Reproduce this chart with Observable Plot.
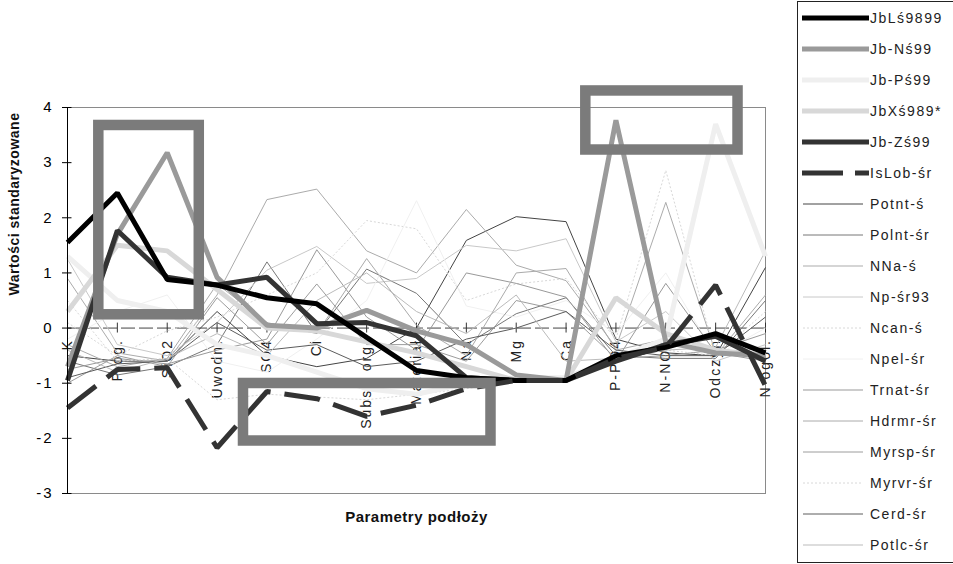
<!DOCTYPE html>
<html><head><meta charset="utf-8">
<script src="https://cdn.jsdelivr.net/npm/d3@7"></script>
<script src="https://cdn.jsdelivr.net/npm/@observablehq/plot@0.6"></script>
<style>
body{margin:0;background:#fff;font-family:"Liberation Sans",Arial,sans-serif;}
#wrap{position:relative;width:953px;height:564px;overflow:hidden;background:#fff;}
#chart{position:absolute;left:0;top:0;}
#legend{position:absolute;left:797px;top:1px;width:170px;height:562px;border:1px solid #222;box-sizing:border-box;background:#fff;}
</style></head><body>
<div id="wrap"><div id="chart"></div><div id="legend"></div></div>
<script>
// ---- categories / ticks ----
const categories = ["K","P og.","SiO2","Uwodn.","SO4","Cl","Subst. org.","Materiał","Na","Mg","Ca","P-PO4","N-NO3","Odczyn","N ogól."];
const yTicks = [-3,-2,-1,0,1,2,3,4];
const yTitle = "Wartości standaryzowane";
const xTitle = "Parametry podłoży";

// ---- series values (one per category) ----
const sJbLs9899  = [1.55, 2.45, 0.88, 0.78, 0.55, 0.44, -0.17, -0.77, -0.9, -0.95, -0.95, -0.5, -0.35, -0.1, -0.45];
const sJbNs99    = [-0.7, 1.7, 3.18, 0.92, 0.05, 0.0, 0.32, -0.05, -0.3, -0.85, -0.95, 3.77, -0.25, -0.45, -0.5];
const sJbPs99    = [1.3, 0.5, 0.3, -0.3, -0.5, -0.8, -1.1, -1.2, -1.0, -0.9, -0.9, -0.55, -0.2, 3.7, 1.3];
const sJbXs989   = [0.3, 1.5, 1.4, 0.7, 0.0, -0.05, -0.25, -0.45, -0.7, -0.95, -0.95, 0.55, -0.1, -0.4, -0.5];
const sJbZs99    = [-0.95, 1.77, 0.92, 0.78, 0.92, 0.08, 0.1, -0.14, -0.9, -0.95, -0.95, -0.6, -0.3, -0.15, -0.6];
const sIsLob     = [-1.45, -0.75, -0.72, -2.17, -1.15, -1.28, -1.6, -1.4, -1.1, -0.95, -0.95, -0.55, -0.35, 0.78, -1.05];
const sPotnt     = [-0.5, -0.6, -0.6, 0.3, -0.5, -0.7, -0.55, 0.0, 1.59, 2.02, 1.93, -0.2, -0.45, -0.5, 1.1];
const sPolnt     = [-0.6, -0.85, -0.7, -0.3, 1.2, -0.1, 1.07, 0.63, -0.3, 0.26, 0.55, -0.5, -0.55, -0.55, 0.5];
const sNNa       = [0.9, -0.45, -0.6, 0.6, 2.33, 2.52, 1.4, 1.0, 2.15, 1.14, 0.86, -0.35, 2.28, -0.45, -0.5];
const sNp93      = [1.25, -0.3, -0.5, 0.1, 1.05, 1.48, 0.81, 0.9, 1.5, 1.4, 1.62, -0.25, 0.3, -0.6, -0.3];
const sNcan      = [0.1, -0.5, -0.05, 0.2, 0.6, 1.0, 1.95, 1.8, 0.5, 0.8, 0.9, -0.2, 2.86, -0.5, 0.3];
const sNpel      = [-0.2, 0.3, 0.6, -0.6, -0.8, -0.2, 0.5, 2.31, 0.4, 0.2, 0.5, -0.1, 1.0, -0.5, 0.0];
const sTrnat     = [-0.75, -0.55, -0.65, -0.4, -0.2, 1.42, 0.2, -0.4, 1.0, 0.81, 0.56, -0.6, 0.81, -0.45, -0.6];
const sHdrmr     = [-0.3, -0.7, -0.55, 0.8, 0.1, -0.1, 1.26, 0.05, -0.5, 1.0, 1.08, -0.4, -0.2, -0.5, 0.6];
const sMyrsp     = [-1.0, -0.5, -0.7, 0.55, -0.3, 0.8, -0.3, -0.3, -0.6, 0.5, 0.3, -0.55, -0.5, -0.4, -0.1];
const sMyrvr     = [0.5, -0.6, -0.55, -1.3, -1.2, -1.25, -1.3, -1.2, -1.1, -0.95, -0.9, -0.5, -0.4, -0.5, -0.4];
const sCerd      = [-0.9, -0.65, -0.6, 0.1, -0.4, -0.3, -0.7, -0.6, -0.2, 0.0, 0.3, -0.4, -0.5, -0.5, 0.2];
const sPotlc     = [-0.4, -0.8, -0.55, -0.1, -0.5, 0.5, 1.0, 0.3, -0.1, 0.6, -0.6, -0.55, -0.4, -0.35, 1.4];

// ---- series names (legend order) ----
const seriesNames = ["JbLś9899","Jb-Nś99","Jb-Pś99","JbXś989*","Jb-Zś99","IsLob-śr","Potnt-ś","Polnt-śr","NNa-ś","Np-śr93","Ncan-ś","Npel-śr","Trnat-śr","Hdrmr-śr","Myrsp-śr","Myrvr-śr","Cerd-śr","Potlc-śr"];
const seriesValues = [sJbLs9899,sJbNs99,sJbPs99,sJbXs989,sJbZs99,sIsLob,sPotnt,sPolnt,sNNa,sNp93,sNcan,sNpel,sTrnat,sHdrmr,sMyrsp,sMyrvr,sCerd,sPotlc];

// ---- highlight boxes (data units: category index / value) ----
const boxX1 = [0.628, 10.396, 3.53];
const boxX2 = [2.643, 13.449, 8.494];
const boxY1 = [3.674, 4.30, -1.005];
const boxY2 = [0.241, 3.229, -2.048];

// ---- styles (separate from data) ----
const seriesStyles = [
  {stroke:"#000000", w:5},
  {stroke:"#9a9a9a", w:5},
  {stroke:"#efefef", w:5},
  {stroke:"#d8d8d8", w:5},
  {stroke:"#333333", w:5},
  {stroke:"#333333", w:5, dash:"36,14"},
  {stroke:"#444444", w:1},
  {stroke:"#777777", w:1},
  {stroke:"#ababab", w:1},
  {stroke:"#c8c8c8", w:1},
  {stroke:"#d8d8d8", w:1, dash:"2,2"},
  {stroke:"#f0f0f0", w:1},
  {stroke:"#999999", w:1},
  {stroke:"#aaaaaa", w:1},
  {stroke:"#9c9c9c", w:1},
  {stroke:"#d8d8d8", w:1, dash:"2,2"},
  {stroke:"#5c5c5c", w:1},
  {stroke:"#bbbbbb", w:1}
];

const catIdx = categories.map((_, i) => i);
const rows = seriesNames.map((name, s) => seriesValues[s].map((v, i) => ({series: name, i, v})));
const boxes = boxX1.map((_, k) => ({x1: boxX1[k], x2: boxX2[k], y1: boxY1[k], y2: boxY2[k]}));

// draw thin first, then thick
const drawOrder = [6,7,8,9,10,11,12,13,14,15,16,17,2,3,1,4,0,5];
const lineMarks = drawOrder.map(s => Plot.line(rows[s], {
  x: "i", y: "v", stroke: seriesStyles[s].stroke, strokeWidth: seriesStyles[s].w,
  strokeDasharray: seriesStyles[s].dash, strokeLinejoin: "miter", strokeLinecap: "butt"
}));

const chart = Plot.plot({
  width: 797, height: 564,
  marginLeft: 67, marginRight: 32, marginTop: 107, marginBottom: 71,
  style: {fontFamily: "'Liberation Sans', Arial, sans-serif", letterSpacing: "2px", background: "transparent"},
  x: {domain: [0, 14], axis: null},
  y: {domain: [-3, 4], axis: null},
  marks: [
    Plot.frame({stroke: "#8a8a8a"}),
    Plot.ruleY([0], {stroke: "#444", strokeDasharray: "14,4"}),
    Plot.ruleX(catIdx, {x: d => d, y1: -0.09, y2: 0.09, stroke: "#333"}),
    Plot.text(catIdx, {x: d => d, y: 0, text: d => categories[d], rotate: -90, textAnchor: "end", dy: 11, fontSize: 14, fill: "#222"}),
    ...lineMarks,
    Plot.rect(boxes, {x1: "x1", x2: "x2", y1: "y1", y2: "y2", fill: "none", stroke: "#7b7b7b", strokeWidth: 10.5}),
    Plot.ruleX([0], {stroke: "#000"}),
    Plot.ruleY(yTicks, {x1: 0, x2: 0.09, stroke: "#000"}),
    Plot.axisY({ticks: yTicks, tickSize: 5, tickPadding: 9, fontSize: 15, label: null, tickFormat: d => String(d)}),
    Plot.text([yTitle], {frameAnchor: "left", rotate: -90, dx: -53, dy: -5, fontSize: 14, fontWeight: "bold", fill: "#111"}),
    Plot.text([xTitle], {frameAnchor: "bottom", dy: 28, fontSize: 15, fontWeight: "bold", fill: "#111"})
  ]
});
d3.select(chart).selectAll("text").filter(function(){ return this.textContent === yTitle || this.textContent === xTitle; }).style("letter-spacing", "0.5px");
document.getElementById("chart").appendChild(chart);

// ---- legend ----
const leg = d3.select("#legend").append("svg").attr("width", 170).attr("height", 560)
  .style("font-family", "'Liberation Sans', Arial, sans-serif").style("letter-spacing", "1.5px");
seriesNames.forEach((name, s) => {
  const y = 16 + 31 * s;
  const st = seriesStyles[s];
  leg.append("line").attr("x1", st.w > 1 ? 4 : 5).attr("x2", st.w > 1 ? 71 : 65).attr("y1", y).attr("y2", y)
    .attr("stroke", st.stroke).attr("stroke-width", st.w)
    .attr("stroke-dasharray", st.dash ? (st.w > 1 ? "41,12" : st.dash) : null);
  leg.append("text").attr("x", 72).attr("y", y + 5).attr("font-size", 14).attr("fill", "#222").text(name);
});
</script>
</body></html>
